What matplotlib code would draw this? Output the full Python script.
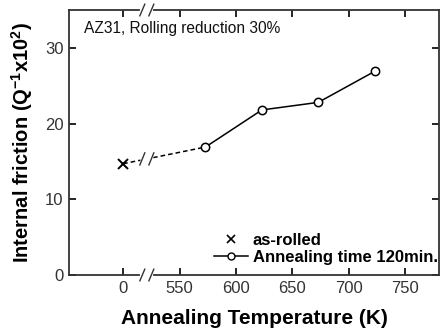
import matplotlib
matplotlib.use('Agg')
import matplotlib.pyplot as plt
from matplotlib.lines import Line2D

plt.rcParams['font.family'] = ['Liberation Sans', 'DejaVu Sans']
plt.rcParams['mathtext.fontset'] = 'custom'
plt.rcParams['mathtext.rm'] = 'Liberation Sans:bold'
plt.rcParams['mathtext.bf'] = 'Liberation Sans:bold'

# as-rolled sample is drawn at the "0" position (axis position 500)
as_rolled_x = [500]
as_rolled_y = [14.7]

anneal_temp = [573, 623, 673, 723]
anneal_friction = [16.9, 21.8, 22.8, 26.9]

xtick_pos = [500, 550, 600, 650, 700, 750]
xtick_labels = ['0', '550', '600', '650', '700', '750']
ytick_pos = [0, 10, 20, 30]

BREAK_X = 521

fig = plt.figure(figsize=(4.41, 3.32), dpi=100)
ax = fig.add_axes([69 / 441, 1 - 275 / 332, 370 / 441, 265 / 332])

ax.set_xlim(452, 780)
ax.set_ylim(0, 35)

# dashed link from as-rolled to first annealed point
ax.plot([as_rolled_x[0], anneal_temp[0]], [as_rolled_y[0], anneal_friction[0]],
        ls=(0, (3, 2)), color='black', lw=1.1, zorder=2)
ax.plot(as_rolled_x, as_rolled_y, ls='none', marker='x', ms=7, mew=1.4,
        color='black', zorder=3)
ax.plot(anneal_temp, anneal_friction, color='black', lw=1.1, marker='o', ms=6,
        mfc='white', mec='black', mew=1.1, zorder=3)

ax.set_xticks(xtick_pos)
ax.set_xticklabels(xtick_labels)
ax.set_yticks(ytick_pos)
ax.tick_params(direction='in', length=5, width=1.2, top=True, right=True,
               labelsize=12, labelcolor='#333333', pad=4)
for s in ax.spines.values():
    s.set_linewidth(1.3)
    s.set_color('#333333')

# axis break marks (top and bottom spines)
trans = ax.get_xaxis_transform()
gap = 4
for yb in (0, 1):
    ax.plot([BREAK_X - gap, BREAK_X + gap], [yb, yb], color='white', lw=3,
            transform=trans, clip_on=False, zorder=5)
    for dx in (-gap, gap):
        ax.plot([BREAK_X + dx - 2.2, BREAK_X + dx + 2.2], [yb - 0.022, yb + 0.022],
                color='#333333', lw=1.0, transform=trans, clip_on=False, zorder=6)

# break marks on the dashed line
yl = as_rolled_y[0] + (anneal_friction[0] - as_rolled_y[0]) * (BREAK_X - as_rolled_x[0]) / (anneal_temp[0] - as_rolled_x[0])
ax.plot([BREAK_X - gap, BREAK_X + gap], [yl, yl + 0.1], color='white', lw=3, zorder=4)
for dx in (-gap, gap):
    ax.plot([BREAK_X + dx - 2.2, BREAK_X + dx + 2.2], [yl - 0.8, yl + 0.8],
            color='#333333', lw=1.0, zorder=5)

ax.text(0.04, 0.93, 'AZ31, Rolling reduction 30%', transform=ax.transAxes,
        fontsize=11.2, ha='left', va='center', color='#111111')

ax.set_xlabel('Annealing Temperature (K)', fontsize=15, fontweight='bold', labelpad=10)
ax.set_ylabel(r'Internal friction (Q$^{\mathbf{-1}}$x10$^{\mathbf{2}}$)', fontsize=14.5,
              fontweight='bold', labelpad=7)

handles = [
    Line2D([], [], ls='none', marker='x', ms=6, mew=1.2, color='black'),
    Line2D([], [], color='black', lw=1.1, marker='o', ms=5, mfc='white', mec='black'),
]
ax.legend(handles, ['as-rolled', 'Annealing time 120min.'], loc='lower right',
          frameon=False, prop={'weight': 'bold', 'size': 12}, handlelength=2.0,
          handletextpad=0.3, labelspacing=0.12, borderaxespad=0.0,
          bbox_to_anchor=(1.014, 0.012))

fig.savefig('out.png', dpi=100)
